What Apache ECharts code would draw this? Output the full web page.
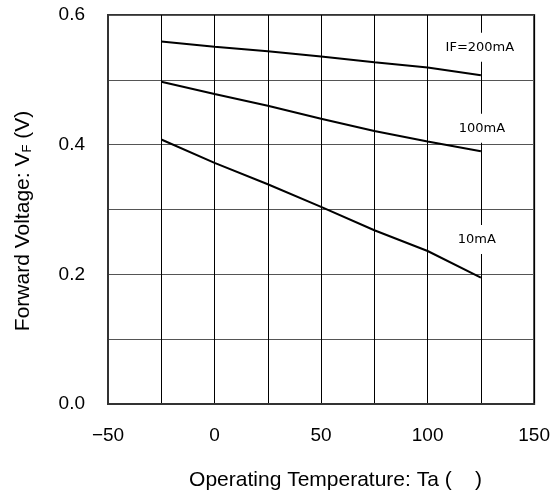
<!DOCTYPE html>
<html>
<head>
<meta charset="utf-8">
<script src="https://cdn.jsdelivr.net/npm/echarts@6/dist/echarts.min.js"></script>
<style>
  html, body { margin: 0; padding: 0; background: #fff; }
  #chart { width: 553px; height: 497px; }
</style>
</head>
<body>
<div id="chart"></div>
<script>
// 数据
const temps = [-25, 0, 25, 50, 75, 100, 125];
const vf200 = [0.559, 0.551, 0.544, 0.536, 0.527, 0.519, 0.507];
const vf100 = [0.497, 0.478, 0.460, 0.440, 0.421, 0.405, 0.390];
const vf10 = [0.408, 0.372, 0.339, 0.304, 0.268, 0.236, 0.195];
const curveNames = ['IF=200mA', '100mA', '10mA'];
const xTickLabels = [-50, 0, 50, 100, 150];
const yTickLabels = [0, 0.2, 0.4, 0.6];

window.addEventListener('DOMContentLoaded', function() {
    initChart();
});

function makeSeries(name, values, offset) {
    const data = temps.map((t, i) => [t, values[i]]);
    const last = data.length - 1;
    // 曲线末端的标注（白底遮住竖向网格线）
    data[last] = {
        value: data[last],
        label: {
            show: true,
            formatter: name,
            position: 'inside',
            offset: offset,
            fontFamily: 'DejaVu Sans',
            fontSize: 13,
            color: '#000',
            backgroundColor: '#fff',
            padding: [8, 3]
        }
    };
    return {
        name: name,
        type: 'line',
        data: data,
        symbol: 'circle',
        symbolSize: 0,
        showSymbol: true,
        z: 3,
        lineStyle: { color: '#000', width: 2 },
        itemStyle: { color: '#000' }
    };
}

function initChart() {
    const myChart = echarts.init(document.getElementById('chart'));

    const option = {
        animation: false,
        grid: {
            left: 108,
            right: 16,
            top: 15,
            bottom: 93,
            show: true,
            borderColor: '#333',
            borderWidth: 2
        },
        xAxis: {
            type: 'value',
            min: -50,
            max: 150,
            interval: 25,
            name: 'Operating Temperature: Ta (    )',
            nameLocation: 'middle',
            nameGap: 66,
            nameTextStyle: {
                fontFamily: 'Liberation Sans',
                fontSize: 21,
                color: '#000',
                padding: [0, 0, 0, 29]
            },
            axisLine: { show: true, onZero: false, lineStyle: { color: '#333', width: 2 } },
            axisTick: { show: false },
            axisLabel: {
                margin: 22,
                fontFamily: 'Liberation Sans',
                fontSize: 19,
                color: '#000',
                formatter: function(v) {
                    if (xTickLabels.indexOf(v) < 0) return '';
                    return String(v).replace('-', '\u2212');
                }
            },
            splitLine: { show: true, lineStyle: { color: '#000', width: 1 } }
        },
        yAxis: {
            type: 'value',
            min: 0,
            max: 0.6,
            interval: 0.1,
            name: 'Forward Voltage: V{sub|F} (V)',
            nameLocation: 'middle',
            nameGap: 74,
            nameTextStyle: {
                fontFamily: 'Liberation Sans',
                fontSize: 21,
                color: '#000',
                padding: [0, 23, 0, 0],
                rich: {
                    sub: {
                        fontFamily: 'Liberation Sans',
                        fontSize: 13,
                        color: '#000',
                        verticalAlign: 'bottom'
                    }
                }
            },
            axisLine: { show: true, onZero: false, lineStyle: { color: '#333', width: 2 } },
            axisTick: { show: false },
            axisLabel: {
                margin: 23,
                fontFamily: 'Liberation Sans',
                fontSize: 19,
                color: '#000',
                formatter: function(v) {
                    const r = Math.round(v * 10) / 10;
                    return yTickLabels.indexOf(r) < 0 ? '' : r.toFixed(1);
                }
            },
            splitLine: { show: true, lineStyle: { color: '#555', width: 1 } }
        },
        series: [
            makeSeries(curveNames[0], vf200, [-1, -28]),
            makeSeries(curveNames[1], vf100, [1, -23]),
            makeSeries(curveNames[2], vf10, [-4, -38])
        ]
    };

    myChart.setOption(option);
    window.addEventListener('resize', () => myChart.resize());
}
</script>
</body>
</html>
